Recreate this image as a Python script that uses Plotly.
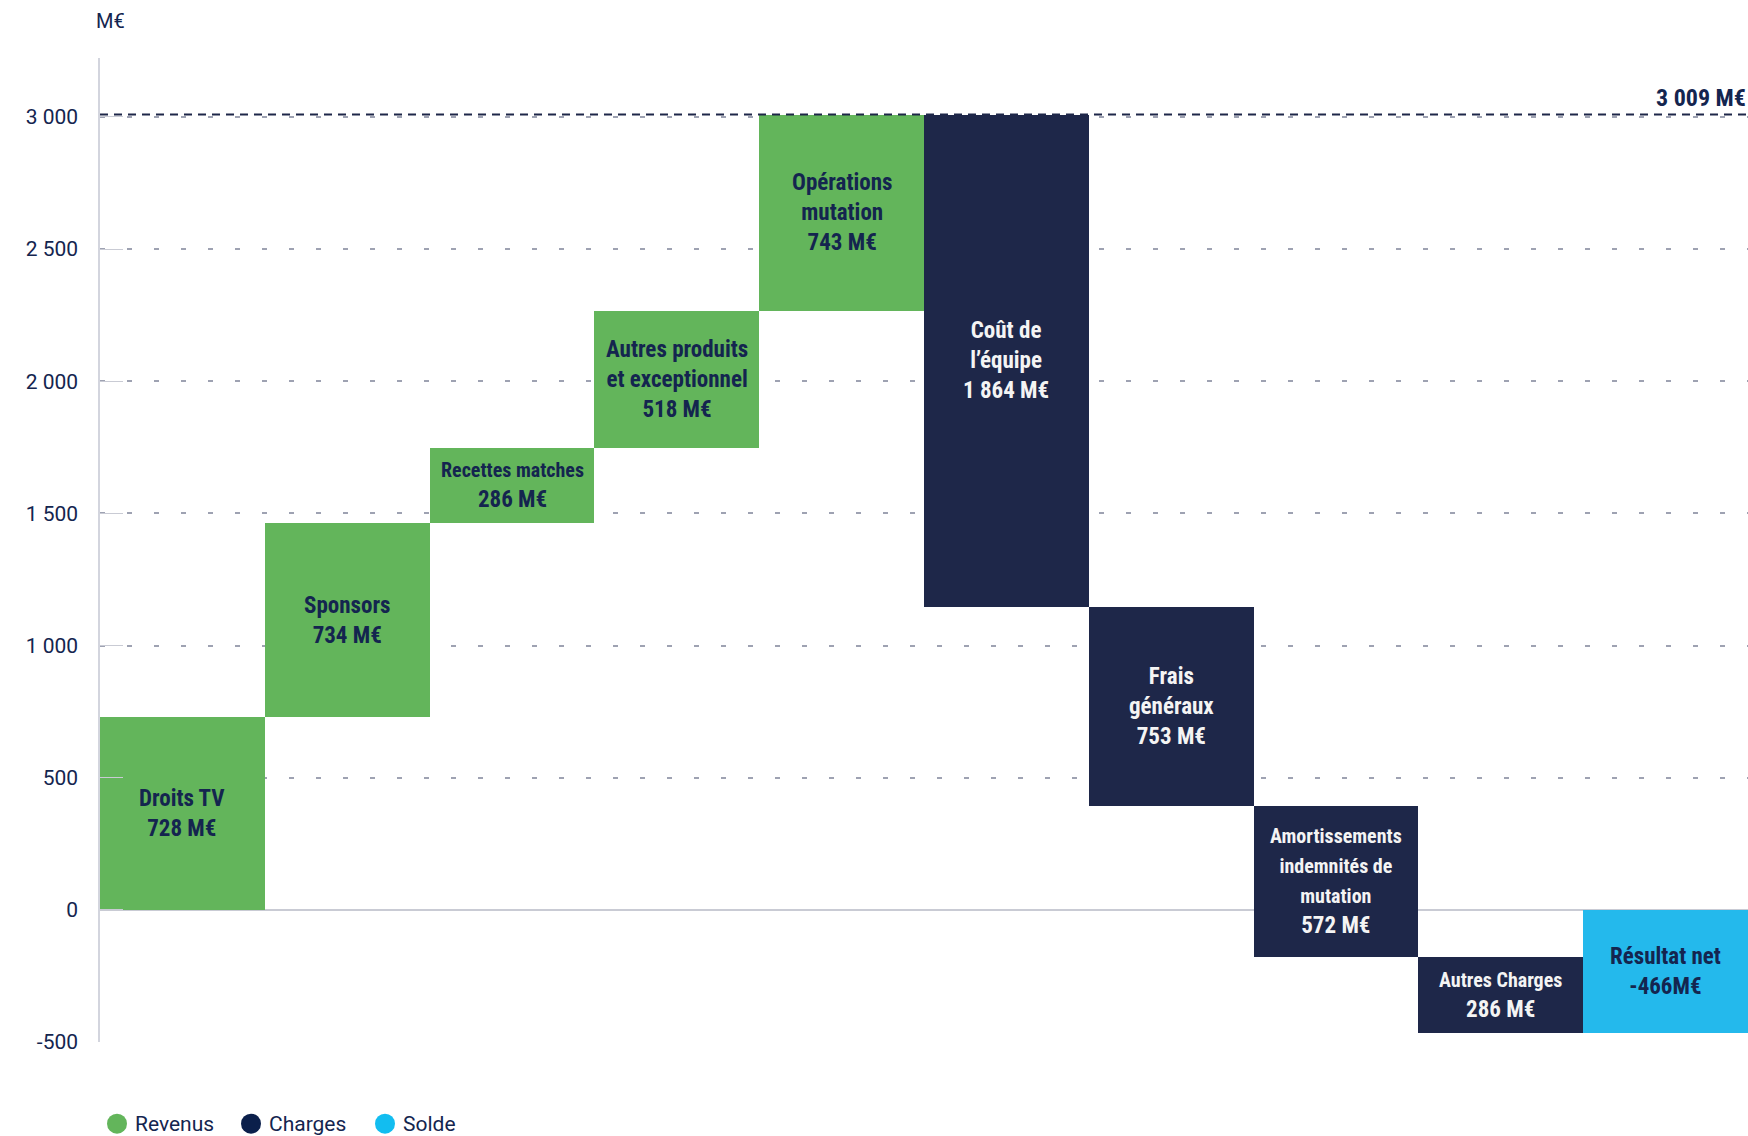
import plotly.graph_objects as go

# --- data
labels = ["Droits TV", "Sponsors", "Recettes matches", "Autres produits<br>et exceptionnel",
          "Opérations<br>mutation", "Coût de<br>l’équipe", "Frais<br>généraux",
          "Amortissements<br>indemnités de<br>mutation", "Autres Charges", "Résultat net"]
values = [728, 734, 286, 518, 743, -1864, -753, -572, -286]
kinds = ["Revenus"] * 5 + ["Charges"] * 4
small_name = [False, False, True, False, False, False, False, True, True, False]

legend_names = ["Revenus", "Charges", "Solde"]
legend_colors = ["#63b55b", "#0b1f4b", "#12bdf0"]

tick_vals = [-500, 0, 500, 1000, 1500, 2000, 2500, 3000]
tick_text = ["-500", "0", "500", "1 000", "1 500", "2 000", "2 500", "3 000"]

GREEN, NAVY, CYAN = "#63b55b", "#1e2749", "#24b9ec"
TXT = "#14254f"
BOLD = "Roboto Condensed, Liberation Sans Narrow, Arial Narrow, Roboto, sans-serif"


def fr(n):
    return f"{n:,}".replace(",", " ")


# cumulative bases for the waterfall
bases, tops = [], []
run = 0
for v in values:
    bases.append(run)
    run += v
    tops.append(run)
total_rev = sum(v for v in values if v > 0)
result = run

fig = go.Figure()

rev_x = [i for i, k in enumerate(kinds) if k == "Revenus"]
chg_x = [i for i, k in enumerate(kinds) if k == "Charges"]
fig.add_trace(go.Bar(x=rev_x, y=[values[i] for i in rev_x], base=[bases[i] for i in rev_x],
                     width=1, marker=dict(color=GREEN, line=dict(width=0)),
                     showlegend=False, hoverinfo="skip"))
fig.add_trace(go.Bar(x=chg_x, y=[values[i] for i in chg_x], base=[bases[i] for i in chg_x],
                     width=1, marker=dict(color=NAVY, line=dict(width=0)),
                     showlegend=False, hoverinfo="skip"))
fig.add_trace(go.Bar(x=[len(values)], y=[result], base=[0], width=1,
                     marker=dict(color=CYAN, line=dict(width=0)),
                     showlegend=False, hoverinfo="skip"))

# labels inside bars
for i, lab in enumerate(labels):
    if i < len(values):
        lo, hi = sorted([bases[i], tops[i]])
        amount = f"{fr(abs(values[i]))} M€"
        color = TXT if kinds[i] == "Revenus" else "#f4f4f4"
    else:
        lo, hi = sorted([0, result])
        amount = f"{result}M€"
        color = TXT
    if small_name[i]:
        txt = f"<span style='font-size:20px'>{lab}</span><br>{amount}"
    else:
        txt = f"{lab}<br>{amount}"
    fig.add_annotation(x=i, y=(lo + hi) / 2, text=f"<b>{txt}</b>", showarrow=False,
                       font=dict(family=BOLD, size=23, color=color), align="center",
                       yanchor="middle", xanchor="center")

# total revenue line
fig.add_shape(type="line", xref="paper", x0=0, x1=1, y0=total_rev, y1=total_rev,
              line=dict(color=NAVY, width=2, dash="8px,6px"), layer="above")
fig.add_annotation(xref="paper", x=1, y=total_rev, text=f"<b>{fr(total_rev)} M€</b>",
                   showarrow=False, xanchor="right", yanchor="bottom", yshift=1, xshift=0,
                   font=dict(family=BOLD, size=24, color=TXT))
fig.add_annotation(xref="paper", yref="paper", x=0, y=1, text="M€", showarrow=False,
                   xanchor="left", yanchor="middle", xshift=-6, yshift=37,
                   font=dict(family="Roboto", size=20, color=TXT))

# legend, drawn by hand so the dots keep their size
leg_x = [7, 141, 275]
for name, col, px in zip(legend_names, legend_colors, leg_x):
    fig.add_shape(type="circle", xref="paper", yref="paper", xsizemode="pixel",
                  ysizemode="pixel", xanchor=0, yanchor=-0.083,
                  x0=px, x1=px + 20, y0=-10, y1=10,
                  fillcolor=col, line=dict(width=0))
    fig.add_annotation(xref="paper", yref="paper", x=0, y=-0.083, xshift=px + 26,
                       text=name, showarrow=False, xanchor="left", yanchor="middle",
                       font=dict(family="Roboto", size=21, color=TXT))

fig.update_layout(
    width=1748, height=1136,
    paper_bgcolor="white", plot_bgcolor="white",
    barmode="overlay", bargap=0,
    margin=dict(l=100, r=0, t=58, b=94, autoexpand=False),
    font=dict(family="Roboto", color=TXT),
    showlegend=False,
    xaxis=dict(range=[-0.5, len(labels) - 0.5], visible=False),
    yaxis=dict(range=[-500, 3223], tickvals=tick_vals, ticktext=tick_text,
               tickfont=dict(family="Roboto", size=21, color=TXT),
               showgrid=True, gridcolor="#9ea2b2", gridwidth=2, griddash="5px,22px",
               zeroline=True, zerolinecolor="#c9cbd4", zerolinewidth=1.5,
               showline=True, linecolor="#d3d5de", linewidth=1.5,
               ticks="inside", ticklen=23, tickcolor="#c9cbd4", tickwidth=1,
               ticklabelstandoff=16),
)

fig.write_html("out.html", config={"displayModeBar": False},
               post_script="document.body.style.margin='0px';")
